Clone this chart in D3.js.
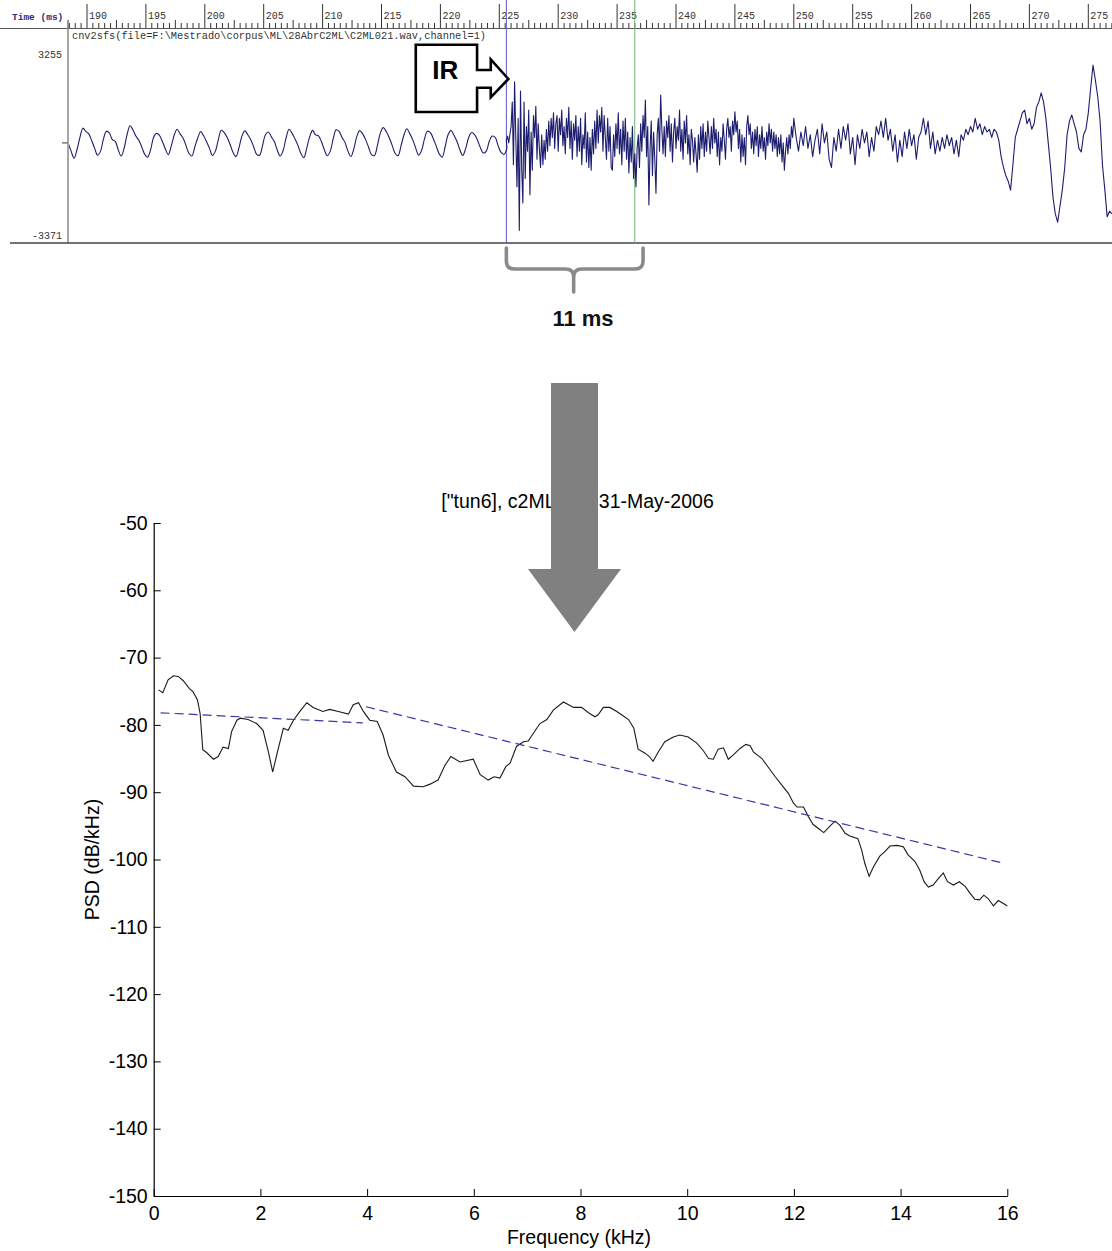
<!DOCTYPE html>
<html>
<head>
<meta charset="utf-8">
<script src="https://cdn.jsdelivr.net/npm/d3@7"></script>
<style>
  body { margin: 0; background: #fff; }
  svg { display: block; }
</style>
</head>
<body>
<svg id="fig" width="1112" height="1251"></svg>
<script>
// ---------- waveform (raw sample amplitude) ----------
const waveFile = "cnv2sfs(file=F:\\Mestrado\\corpus\\ML\\28AbrC2ML\\C2ML021.wav,channel=1)";
const ampMax = 3255, ampMin = -3371;

// voiced stretch before the burst, one value every 0.25 ms
const preStart = 188.4, preStep = 0.25;
const preValues = [
  0, -300, -560, -250, 200, 540, 420, 330, 80, -200, -450,
  -300, 150, 430, 360, 120, 60, -250, -480,
  -200, 300, 630, 480, 250, 100, -150, -420,
  -520, -250, 200, 350, 280, 50, -220,
  -430, -120, 280, 500, 330, 180, -90, -380,
  -480, -150, 180, 420, 260, 40, -200, -460,
  -300, 120, 460, 380, 200, -60, -350,
  -500, -180, 250, 440, 300, 120, -140, -420,
  -450, -100, 300, 400, 220, 50, -260, -480,
  -280, 180, 500, 360, 150, -80, -380,
  -540, -200, 220, 460, 300, 260, 50, -250, -470,
  -300, 150, 480, 420, 200, 20, -300,
  -500, -220, 230, 450, 330, 120, -150, -430,
  -460, -100, 360, 560, 420, 200, -80, -380,
  -470, -120, 280, 520, 340, 120, -180,
  -450, -280, 150, 430, 380, 150, -120, -400,
  -520, -150, 300, 460, 280, 60, -250,
  -460, -200, 200, 380, 300, 100, -180, -370,
  -300, 60, 250, 200, -100, -350, -420, -200
];

// release burst, one value every 0.1 ms
const burstStart = 225.6, burstStep = 0.1;
const burstValues = [
  100, 250, 0, 300, 600, 1500, -800, 2240, 200, -1600,
  900, -3200, 1900, -900, -2200, 1500, -1300, 600, -300, 1200,
  -1900, 400, -1000, 1000, 200, 1340, -600, 700, -200, -900,
  300, -800, 100, -600, 500, -300, 800, -100, 900, 200,
  1100, -200, 700, 1000, -300, 900, 300, 1200, -100, 600,
  -400, 900, 200, 1300, -200, 800, -600, 700, 100, 1000,
  -500, 600, -300, 900, -800, 300, -200, 1100, -700, 400,
  -900, 200, -1000, 500, -400, 800, -200, 1200, 0, 1000,
  400, 1300, -300, 1000, 200, -600, 900, -300, 600, -900,
  -1000, 300, -500, 700, -200, 1100, -400, 500, -800, 800,
  -300, 900, -600, 400, -1100, 200, -700, 600, -1300, -400,
  -1600, -200, 300, -900, 700, -300, 1000, 200, 1570, -500,
  600, -2270, -200, 800, -1200, 400, -600, -1840, 300, 900,
  -300, 1750, 500, -400, 600, -500, 800, 200, 1000, -300,
  700, -700, 400, 900, -200, 600, 100, 1200, -300, 500,
  -600, 800, 0, 1000, -400, 300, -800, 500, 100, -700,
  200, -400, -1070, 300, -600, 600, -200, 700, -500, 400,
  -300, 800, 200, -400, 600, -200, 900, 0, 500, -500,
  400, -800, 200, -300, 700, 100, -600, 500, 900, 200,
  600, -300, 800, 300, 1140, 400, 800, -200, 500, -700,
  300, -500, 200, -800, 600, 1000, 300, 700, -200, 400,
  -400, 500, -100, 600, -500, 300, -200, 600, -300, 200,
  -600, 400, -100, 700, 0, 500, -300, 400, -200, 300,
  -500, 200, -400, 300, -700, 0, -1000, -300, 200, -400,
  300, -200, 600, 200, 900
];

// decaying noise and the following vowel onset, one value every 0.2 ms
const tailStart = 250.2, tailStep = 0.2;
const tailValues = [
  200, -300, 400, -100, 600, -200, 300, -500, 100, 500,
  -400, 700, 0, 400, -600, -900, 200, -300, 500, -200,
  600, 100, 700, -400, 200, -800, 300, -200, 500, 0,
  400, -500, 200, -300, 600, 300, 800, 200, 900, 100,
  500, -300, 300, -700, 100, -500, 400, -200, 500, -100,
  300, -600, 200, 400, 900, 300, 800, -200, 400, -400,
  100, -300, 200, -200, 300, -100, 200, -400, 100, -500,
  300, 100, 500, 300, 600, 400, 900, 500, 700, 300,
  600, 400, 500, 200, 500, 400, 100, -500, -900, -1200,
  -1400, -1730, -800, 200, 500, 800, 1100, 1200, 700, 900,
  500, 700, 1300, 1500, 1830, 1500, 900, 0, -900, -1980,
  -2600, -2900, -2300, -1700, -900, 300, 800, 1020, 700, 400,
  -200, -330, 300, 500, 1100, 2000, 2850, 2300, 1700, 800,
  -800, -1700, -2700, -2500, -2600
];

// cursor positions (ms)
const cursorStart = 225.6, cursorEnd = 236.5;

// time ruler
const rulerStart = 188.5, rulerEnd = 277, rulerStep = 0.5;
const rulerLabels = [190, 195, 200, 205, 210, 215, 220, 225, 230, 235,
                     240, 245, 250, 255, 260, 265, 270, 275];

// ---------- power spectral density ----------
const psdTitle = "[\"tun6], c2ML021, 31-May-2006";
const psdFreq = [
  0.09, 0.17, 0.27, 0.37, 0.46, 0.55, 0.67, 0.74, 0.82, 0.87,
  0.92, 0.99, 1.12, 1.21, 1.30, 1.40, 1.46, 1.56, 1.62, 1.77,
  1.93, 2.05, 2.15, 2.23, 2.32, 2.43, 2.52, 2.62, 2.74, 2.87,
  2.99, 3.17, 3.30, 3.46, 3.65, 3.74, 3.84, 3.93, 4.05, 4.19,
  4.30, 4.40, 4.55, 4.71, 4.87, 5.05, 5.18, 5.33, 5.46, 5.57,
  5.74, 5.99, 6.12, 6.27, 6.38, 6.49, 6.60, 6.68, 6.80, 6.93,
  7.02, 7.12, 7.24, 7.37, 7.49, 7.68, 7.87, 8.02, 8.15, 8.27,
  8.33, 8.43, 8.55, 8.68, 8.77, 8.90, 9.00, 9.08, 9.21, 9.29,
  9.36, 9.46, 9.58, 9.74, 9.86, 10.02, 10.18, 10.30, 10.40, 10.49,
  10.58, 10.68, 10.77, 10.86, 10.99, 11.10, 11.18, 11.24, 11.40, 11.52,
  11.65, 11.77, 11.90, 11.99, 12.06, 12.18, 12.27, 12.36, 12.46, 12.56,
  12.68, 12.77, 12.86, 12.96, 13.05, 13.20, 13.27, 13.33, 13.41, 13.49,
  13.61, 13.71, 13.80, 13.93, 14.05, 14.14, 14.27, 14.36, 14.44, 14.52,
  14.61, 14.71, 14.80, 14.88, 14.99, 15.10, 15.21, 15.30, 15.39, 15.48,
  15.56, 15.64, 15.74, 15.83, 15.92, 16.00
];
const psdDb = [
  -74.8, -75.2, -73.3, -72.7, -72.8, -73.4, -74.6, -75.1, -76.3, -78.3,
  -83.7, -84.1, -85.1, -84.7, -83.3, -83.5, -81.0, -79.3, -79.0, -79.2,
  -79.8, -80.8, -84.0, -87.0, -84.0, -80.5, -80.8, -79.3, -78.0, -76.7,
  -77.4, -78.0, -77.7, -78.0, -78.4, -77.0, -76.7, -78.0, -79.3, -79.5,
  -81.5, -84.5, -87.0, -87.7, -89.1, -89.2, -88.8, -88.2, -86.0, -84.7,
  -85.5, -85.1, -87.4, -88.2, -87.7, -87.9, -86.2, -85.7, -83.2, -82.5,
  -82.4, -81.2, -79.8, -79.2, -77.8, -76.6, -77.4, -77.4, -78.2, -78.8,
  -78.5, -77.4, -77.4, -78.0, -78.5, -79.2, -80.5, -83.6, -84.2, -84.7,
  -85.4, -84.0, -82.5, -81.8, -81.5, -81.8, -82.7, -83.8, -85.0, -85.1,
  -83.6, -83.4, -85.1, -84.5, -83.5, -82.9, -83.1, -84.0, -85.0, -86.3,
  -87.7, -88.9, -90.2, -91.6, -92.2, -92.2, -93.6, -94.8, -95.4, -96.0,
  -95.0, -94.3, -94.9, -96.1, -96.5, -96.9, -98.6, -100.6, -102.5, -101.1,
  -99.5, -98.8, -98.0, -97.9, -98.1, -99.3, -100.3, -101.6, -103.3, -104.1,
  -103.8, -102.8, -102.0, -103.3, -103.8, -103.3, -104.0, -105.0, -105.9, -106.0,
  -105.3, -105.8, -106.9, -106.1, -106.5, -106.9
];
// spectral tilt fits below and above 4 kHz
const trendLowFreq = [0.13, 3.92];
const trendLowDb = [-78.2, -79.7];
const trendHighFreq = [3.98, 15.95];
const trendHighDb = [-77.3, -100.6];

const freqTicks = [0, 2, 4, 6, 8, 10, 12, 14, 16];
const dbTicks = [-150, -140, -130, -120, -110, -100, -90, -80, -70, -60, -50];

// =====================================================
const svg = d3.select("#fig");
const mono = "'Liberation Mono', 'DejaVu Sans Mono', monospace";
const sans = "'Liberation Sans', Arial, sans-serif";

// ---------- waveform panel ----------
const xTime = d3.scaleLinear().domain([190, 275]).range([87, 1088.3]);
const yAmp = d3.scaleLinear().domain([ampMin, ampMax]).range([235, 54]);
const panelTop = 28, panelBottom = 243, panelLeft = 68;

const wave = svg.append("g");

// ruler
const rulerTicks = d3.range(0, Math.round((rulerEnd - rulerStart) / rulerStep) + 1)
  .map(i => rulerStart + i * rulerStep);
wave.selectAll("line.rtick").data(rulerTicks).join("line")
  .attr("class", "rtick")
  .attr("x1", d => xTime(d)).attr("x2", d => xTime(d))
  .attr("y1", d => d % 5 === 0 ? 4 : (d % 2.5 === 0 ? 20 : 23))
  .attr("y2", panelTop)
  .attr("stroke", "#333").attr("stroke-width", 1);
wave.selectAll("text.rlab").data(rulerLabels).join("text")
  .attr("class", "rlab")
  .attr("x", d => xTime(d) + 2).attr("y", 19)
  .attr("font-family", mono).attr("font-size", 10).attr("fill", "#333")
  .text(d => d);
wave.append("text")
  .attr("x", 12).attr("y", 20)
  .attr("font-family", mono).attr("font-size", 9.5).attr("font-weight", "bold")
  .attr("fill", "#2c2c80").text("Time (ms)");
wave.append("line")
  .attr("x1", panelLeft).attr("x2", panelLeft).attr("y1", 20).attr("y2", panelTop)
  .attr("stroke", "#333");
wave.append("line")
  .attr("x1", 0).attr("x2", 1112).attr("y1", panelTop + 0.5).attr("y2", panelTop + 0.5)
  .attr("stroke", "#555").attr("stroke-width", 1.2);

// file caption
wave.append("text")
  .attr("x", 72).attr("y", 39)
  .attr("font-family", mono).attr("font-size", 10.3).attr("fill", "#333")
  .text(waveFile);

// amplitude labels and zero tick
wave.append("text").attr("x", 62).attr("y", yAmp(ampMax) + 3.5)
  .attr("text-anchor", "end").attr("font-family", mono).attr("font-size", 10)
  .attr("fill", "#333").text(ampMax);
wave.append("text").attr("x", 62).attr("y", yAmp(ampMin) + 3.5)
  .attr("text-anchor", "end").attr("font-family", mono).attr("font-size", 10)
  .attr("fill", "#333").text(ampMin);
wave.append("line")
  .attr("x1", 62).attr("x2", panelLeft).attr("y1", yAmp(0)).attr("y2", yAmp(0))
  .attr("stroke", "#333");

// frame lines
wave.append("line")
  .attr("x1", panelLeft).attr("x2", panelLeft).attr("y1", panelTop).attr("y2", panelBottom)
  .attr("stroke", "#888").attr("stroke-width", 1.5);
wave.append("line")
  .attr("x1", 10).attr("x2", 1112).attr("y1", panelBottom).attr("y2", panelBottom)
  .attr("stroke", "#444").attr("stroke-width", 1.4);

// cursors
wave.append("line")
  .attr("x1", xTime(cursorStart)).attr("x2", xTime(cursorStart))
  .attr("y1", 0).attr("y2", panelBottom)
  .attr("stroke", "#5a5ac8").attr("stroke-width", 1);
wave.append("line")
  .attr("x1", xTime(cursorEnd)).attr("x2", xTime(cursorEnd))
  .attr("y1", 0).attr("y2", panelBottom)
  .attr("stroke", "#6fb36f").attr("stroke-width", 1);

// samples
const preSamples = preValues.map((v, i) => [preStart + i * preStep, v]);
const noiseSamples = [[preSamples[preSamples.length - 1][0], preValues[preValues.length - 1]]]
  .concat(burstValues.map((v, i) => [burstStart + i * burstStep, v]))
  .concat(tailValues.map((v, i) => [tailStart + i * tailStep, v]));

svg.append("defs").append("clipPath").attr("id", "waveClip")
  .append("rect").attr("x", panelLeft + 1).attr("y", panelTop + 1)
  .attr("width", 1112 - panelLeft - 1).attr("height", panelBottom - panelTop - 2);

// the voiced part is rendered smoothly, the burst sample by sample
wave.append("path")
  .datum(preSamples)
  .attr("clip-path", "url(#waveClip)")
  .attr("fill", "none")
  .attr("stroke", "#1d1d6e")
  .attr("stroke-width", 1.1)
  .attr("d", d3.line().curve(d3.curveCatmullRom.alpha(0.5))
    .x(d => xTime(d[0])).y(d => yAmp(d[1])));
wave.append("path")
  .datum(noiseSamples)
  .attr("clip-path", "url(#waveClip)")
  .attr("fill", "none")
  .attr("stroke", "#1d1d6e")
  .attr("stroke-width", 1.1)
  .attr("stroke-linejoin", "round")
  .attr("d", d3.line().x(d => xTime(d[0])).y(d => yAmp(d[1])));

// "IR" callout pointing at the release
const tipX = xTime(cursorStart) + 2, tipY = 79;
const irPath = d3.path();
irPath.moveTo(tipX - 92.6, 44.7);
irPath.lineTo(tipX - 31.3, 44.7);
irPath.lineTo(tipX - 31.3, 70);
irPath.lineTo(tipX - 17.6, 70);
irPath.lineTo(tipX - 17.6, 59.3);
irPath.lineTo(tipX, tipY);
irPath.lineTo(tipX - 17.6, 97.3);
irPath.lineTo(tipX - 17.6, 87.7);
irPath.lineTo(tipX - 31.3, 87.7);
irPath.lineTo(tipX - 31.3, 112);
irPath.lineTo(tipX - 92.6, 112);
irPath.closePath();
wave.append("path").attr("d", irPath.toString())
  .attr("fill", "#fff").attr("stroke", "#000").attr("stroke-width", 2.6)
  .attr("stroke-linejoin", "miter");
wave.append("text")
  .attr("x", tipX - 63).attr("y", 79)
  .attr("text-anchor", "middle")
  .attr("font-family", sans).attr("font-weight", "bold").attr("font-size", 26)
  .attr("fill", "#000").text("IR");

// brace under the analysed stretch
const bx0 = xTime(cursorStart), bx1 = bx0 + 136.7, bmid = bx0 + 67.3;
const brace = d3.path();
brace.moveTo(bx0, 248);
brace.lineTo(bx0, 261);
brace.quadraticCurveTo(bx0, 269, bx0 + 8, 269);
brace.lineTo(bmid - 8, 269);
brace.quadraticCurveTo(bmid, 269, bmid, 277);
brace.lineTo(bmid, 292);
brace.moveTo(bmid, 277);
brace.quadraticCurveTo(bmid, 269, bmid + 8, 269);
brace.lineTo(bx1 - 8, 269);
brace.quadraticCurveTo(bx1, 269, bx1, 261);
brace.lineTo(bx1, 248);
wave.append("path").attr("d", brace.toString())
  .attr("fill", "none").attr("stroke", "#8a8a8a").attr("stroke-width", 3.6)
  .attr("stroke-linecap", "round");
wave.append("text")
  .attr("x", 583).attr("y", 326)
  .attr("text-anchor", "middle")
  .attr("font-family", sans).attr("font-weight", "bold").attr("font-size", 22)
  .attr("fill", "#111").text("11 ms");

// ---------- PSD plot ----------
const x = d3.scaleLinear().domain([0, 16]).range([153.7, 1007.3]);
const y = d3.scaleLinear().domain([-150, -50]).range([1196, 523]);
const plot = svg.append("g");

plot.append("text")
  .attr("x", 577.5).attr("y", 508)
  .attr("text-anchor", "middle")
  .attr("font-family", sans).attr("font-size", 19.5).attr("fill", "#000")
  .text(psdTitle);

const plainNumber = d => String(d);
const xAxis = plot.append("g")
  .attr("transform", `translate(0,${y(-150)})`)
  .call(d3.axisBottom(x).tickValues(freqTicks).tickFormat(plainNumber)
    .tickSize(-7).tickSizeOuter(0).tickPadding(10));
const yAxis = plot.append("g")
  .attr("transform", `translate(${x(0)},0)`)
  .call(d3.axisLeft(y).tickValues(dbTicks).tickFormat(plainNumber)
    .tickSize(-7).tickSizeOuter(0).tickPadding(6));
[xAxis, yAxis].forEach(g => {
  g.selectAll("text").attr("font-family", sans).attr("font-size", 19.5).attr("fill", "#000");
  g.selectAll("line").attr("stroke", "#000");
  g.select(".domain").attr("stroke", "#000").attr("stroke-width", 1.2);
});

plot.append("text")
  .attr("x", 579).attr("y", 1244)
  .attr("text-anchor", "middle")
  .attr("font-family", sans).attr("font-size", 19.5).attr("fill", "#000")
  .text("Frequency (kHz)");
plot.append("text")
  .attr("transform", `translate(98.5,${y(-100)}) rotate(-90)`)
  .attr("text-anchor", "middle")
  .attr("font-family", sans).attr("font-size", 19.5).attr("fill", "#000")
  .text("PSD (dB/kHz)");

const fdLine = d3.line().x(d => x(d[0])).y(d => y(d[1]));

plot.append("path")
  .datum(psdFreq.map((f, i) => [f, psdDb[i]]))
  .attr("fill", "none").attr("stroke", "#1a1a1a").attr("stroke-width", 1.1)
  .attr("d", fdLine);

[[trendLowFreq, trendLowDb], [trendHighFreq, trendHighDb]].forEach(([fs, ds]) => {
  plot.append("path")
    .datum(fs.map((f, i) => [f, ds[i]]))
    .attr("fill", "none").attr("stroke", "#3838a4").attr("stroke-width", 1.2)
    .attr("stroke-dasharray", "9,5")
    .attr("d", fdLine);
});

// ---------- arrow between the two views ----------
const arrow = d3.path();
arrow.moveTo(551, 383);
arrow.lineTo(598, 383);
arrow.lineTo(598, 569);
arrow.lineTo(621, 569);
arrow.lineTo(574.5, 632);
arrow.lineTo(528, 569);
arrow.lineTo(551, 569);
arrow.closePath();
svg.append("path").attr("d", arrow.toString()).attr("fill", "#808080");
</script>
</body>
</html>
